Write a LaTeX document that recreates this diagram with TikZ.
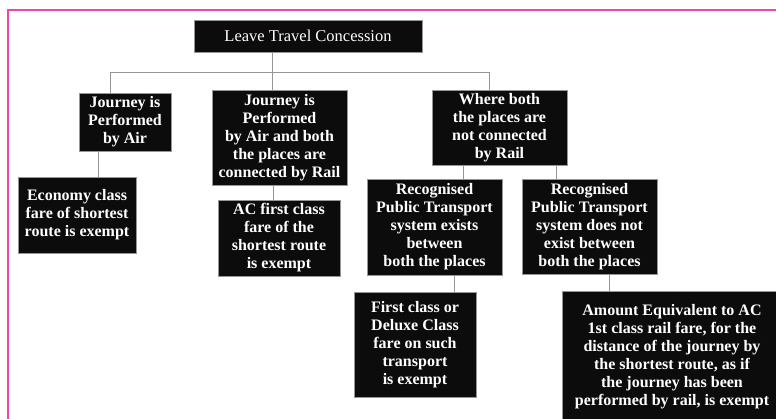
\documentclass[tikz,border=0pt]{standalone}
\usepackage{fontspec}
\setmainfont{Liberation Serif}
\usepackage{tikz}
\usetikzlibrary{positioning,calc}
\definecolor{boxBlack}{RGB}{12,12,12}
\definecolor{edgeGray}{RGB}{150,150,150}
\definecolor{framePink}{RGB}{236,72,170}
\tikzset{
  ltc node/.style={draw=edgeGray,fill=boxBlack,line width=0.9pt,align=center,text=white,inner sep=2pt,font=\fontsize{16}{18}\selectfont\bfseries},
  ltc title/.style={ltc node,font=\fontsize{16.5}{18}\selectfont},
  tree line/.style={draw=edgeGray,line width=1pt},
  page frame/.style={draw=framePink,line width=1.2pt}
}
\begin{document}
\begin{tikzpicture}[x=1pt,y=-1pt]
        \useasboundingbox (0,0) rectangle (776,418);
        \draw[page frame] (8,10) rectangle (800,440);
        \node[ltc title,minimum width=228pt,minimum height=32pt] (title) at (308,36) {Leave Travel Concession};
        \node[ltc node,minimum width=92pt,minimum height=58pt] (air) at (125,122) {Journey is\\Performed\\by Air};
        \node[ltc node,minimum width=135pt,minimum height=95pt] (airrail) at (279.5,137.5) {Journey is\\Performed\\by Air and both\\the places are\\connected by Rail};
        \node[ltc node,minimum width=135pt,minimum height=75pt] (norail) at (499.5,127.5) {Where both\\the places are\\not connected\\by Rail};
        \node[ltc node,minimum width=118pt,minimum height=76pt] (economy) at (77,215) {Economy class\\fare of shortest\\route is exempt};
        \node[ltc node,minimum width=122pt,minimum height=76pt] (acfirst) at (279,238) {AC first class\\fare of the\\shortest route\\is exempt};
        \node[ltc node,minimum width=135pt,minimum height=96pt] (exists) at (434.5,227) {Recognised\\Public Transport\\system exists\\between\\both the places};
        \node[ltc node,minimum width=135pt,minimum height=95pt] (notexist) at (589.5,226.5) {Recognised\\Public Transport\\system does not\\exist between\\both the places};
        \node[ltc node,minimum width=122pt,minimum height=105pt] (firstclass) at (415,344.5) {First class or\\Deluxe Class\\fare on such\\transport\\is exempt};
        \node[ltc node,minimum width=220pt,minimum height=132pt] (amount) at (672,357) {Amount Equivalent to AC\\1st class rail fare, for the\\distance of the journey by\\the shortest route, as if\\the journey has been\\performed by rail, is exempt};
        \coordinate (busL) at (110,72);
        \coordinate (busM) at (272,72);
        \coordinate (busR) at (489,72);
        \draw[tree line] (title.south -| busM) -- (airrail.north -| busM);
        \draw[tree line] (air.north -| busL) |- (busR) -- (norail.north -| busR);
        \draw[tree line] ($(air.south)+(-27,0)$) -- ($(economy.north)+(21,0)$);
        \draw[tree line] ($(airrail.south)+(-6.5,0)$) -- ($(acfirst.north)+(-6,0)$);
        \draw[tree line] ($(norail.south)+(-36.5,0)$) -- ($(exists.north)+(28.5,0)$);
        \draw[tree line] ($(norail.south)+(56.5,0)$) -- ($(notexist.north)+(-33.5,0)$);
        \draw[tree line] ($(exists.south)+(19.5,0)$) -- ($(firstclass.north)+(39,0)$);
        \draw[tree line] ($(notexist.south)+(19.5,0)$) -- ($(amount.north)+(-63,0)$);
      \end{tikzpicture}
\end{document}
